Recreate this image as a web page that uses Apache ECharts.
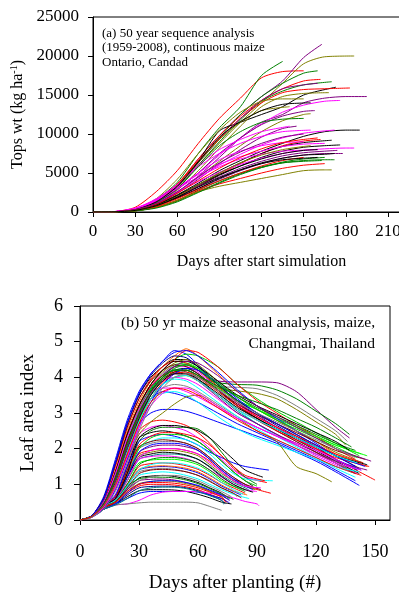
<!DOCTYPE html>
<html>
<head>
<meta charset="utf-8">
<script src="https://cdn.jsdelivr.net/npm/echarts@6/dist/echarts.min.js"></script>
<style>
  html, body { margin: 0; padding: 0; background: #fff; }
  #chart { width: 399px; height: 596px; }
</style>
</head>
<body>
<div id="chart"></div>
<script>
// (a) Tops weight, Ontario – days sampled every 15 d, last point sits at the curve's end day
const topDays = [0, 15, 30, 45, 60, 75, 90, 105, 120, 135, 150, 165, 180, 195];
const topEnd = [150, 135, 163, 186, 160, 162, 170, 173, 183, 160, 168, 195, 176, 150, 158,
  155, 145, 155, 190, 172, 162, 170, 176, 165, 186, 174, 178, 172, 160, 172,
  163, 165, 170, 150, 160, 140, 140, 150, 150, 155, 160, 165, 150, 155, 160];
const topColors = ['#ff0000', '#008000', '#800080', '#808000', '#008000', '#ff0000', '#008000', '#000000', '#ff0000', '#800080',
  '#808000', '#800080', '#ff00ff', '#808000', '#800080', '#808000', '#800080', '#ff00ff', '#000000', '#ff00ff',
  '#ff0000', '#000000', '#000000', '#ff00ff', '#ff00ff', '#800080', '#800080', '#000000', '#ff00ff', '#008000',
  '#008000', '#ff0000', '#808000', '#ff0000', '#000000', '#ff00ff', '#808000', '#008000', '#ff00ff', '#000000',
  '#ff0000', '#008000', '#800080', '#808000', '#000000'];
const topCurves = [
  [0, 50, 600, 2600, 5300, 8800, 12000, 14600, 17200, 18000, 18100],
  [0, 40, 400, 1600, 3800, 7500, 10800, 13500, 17500, 19300],
  [0, 40, 350, 1500, 3500, 6800, 9800, 12500, 14800, 16800, 19800, 21500],
  [0, 30, 300, 1300, 3200, 6000, 8800, 11500, 14000, 16500, 19000, 19900, 20000],
  [0, 30, 300, 1400, 3500, 6500, 9500, 12500, 14800, 16500, 17800, 18100],
  [0, 40, 350, 1500, 3600, 6800, 9800, 12300, 14300, 15800, 16800, 17000],
  [0, 30, 250, 1100, 3000, 6000, 9000, 11800, 14200, 15500, 16300, 16700],
  [0, 30, 300, 1200, 3200, 6500, 10400, 11500, 12500, 13500, 15000, 16000],
  [0, 40, 350, 1400, 3500, 6600, 9400, 12000, 14000, 15300, 15700, 15800, 15900],
  [0, 30, 300, 1300, 3300, 6300, 9300, 12000, 14300, 15800, 16300, 16500],
  [0, 30, 250, 1100, 2800, 5300, 8200, 11000, 13500, 14800, 15200, 15300],
  [0, 30, 250, 1000, 2500, 4600, 7000, 9500, 11500, 12500, 14000, 14600, 14800, 14800],
  [0, 40, 350, 1300, 3000, 5000, 7300, 9500, 11300, 12800, 13700, 14200, 14300],
  [0, 40, 400, 1700, 4200, 7500, 10500, 12800, 14200, 14500, 14500],
  [0, 30, 300, 1200, 2900, 5000, 7500, 9500, 11200, 12300, 12900, 13000],
  [0, 30, 250, 1000, 2500, 4500, 6500, 8500, 10300, 11700, 12500, 12600],
  [0, 30, 250, 1000, 2400, 4200, 6200, 8000, 9600, 10700, 11000],
  [0, 50, 450, 1700, 3500, 5800, 7500, 8800, 9700, 10300, 10500],
  [0, 30, 250, 900, 2200, 3700, 5300, 6600, 7800, 8800, 9700, 10300, 10500, 10500],
  [0, 40, 350, 1200, 2600, 4300, 6000, 7400, 8600, 9500, 10100, 10400, 10500],
  [0, 30, 250, 900, 2000, 3300, 4800, 6200, 7500, 8500, 9100, 9300],
  [0, 30, 250, 900, 2100, 3500, 5000, 6300, 7500, 8400, 8900, 9200],
  [0, 30, 200, 800, 1900, 3300, 4700, 5900, 7000, 7800, 8300, 8500, 8600],
  [0, 50, 500, 1600, 3200, 4800, 6100, 7100, 7800, 8400, 8700, 8800],
  [0, 40, 350, 1200, 2500, 3900, 5100, 6100, 6900, 7500, 7900, 8100, 8200, 8200],
  [0, 30, 250, 900, 2000, 3300, 4500, 5600, 6500, 7200, 7600, 7800, 7900],
  [0, 30, 250, 800, 1800, 3000, 4200, 5300, 6200, 6900, 7300, 7500, 7500],
  [0, 30, 200, 800, 1800, 3000, 4300, 5400, 6300, 6900, 7300, 7400, 7500],
  [0, 50, 450, 1500, 3000, 4500, 5800, 6800, 7400, 7800, 8000],
  [0, 20, 150, 600, 1400, 2600, 3800, 4900, 5700, 6300, 6600, 6700, 6700],
  [0, 20, 150, 600, 1500, 2800, 4000, 5000, 5800, 6300, 6500, 6600],
  [0, 20, 150, 600, 1500, 2700, 3600, 4300, 5000, 5600, 6000, 6200],
  [0, 20, 150, 600, 1500, 2600, 3300, 3800, 4300, 4800, 5300, 5400, 5400],
  [0, 30, 200, 700, 1700, 2900, 4000, 5000, 5900, 6600, 7000],
  [0, 30, 250, 900, 2100, 3500, 4800, 5900, 6800, 7500, 7900, 8000],
  [0, 40, 400, 1500, 3400, 6000, 8000, 9300, 10300, 11000],
  [0, 30, 300, 1300, 3300, 6300, 9300, 11500, 13000, 13500],
  [0, 30, 300, 1200, 3000, 5800, 8500, 10300, 11500, 11900, 12000],
  [0, 40, 400, 1400, 3000, 5000, 6700, 7800, 8500, 8900, 9000],
  [0, 30, 300, 1300, 3300, 6400, 9600, 11600, 13000, 13800, 14000],
  [0, 30, 300, 1000, 2400, 4000, 5600, 7000, 8100, 8900, 9300, 9500],
  [0, 20, 150, 500, 1300, 2500, 3700, 4800, 5700, 6400, 6800, 7000],
  [0, 30, 300, 1100, 2600, 4500, 6300, 7700, 8800, 9600, 10000],
  [0, 20, 200, 800, 2000, 3500, 5000, 6300, 7300, 8000, 8400, 8500],
  [0, 20, 200, 800, 1900, 3200, 4400, 5400, 6200, 6700, 6900, 7000]
];

// (b) Leaf area index, Changmai – high-LAI seasons and low-LAI seasons
const hiDays = [0, 6, 12, 18, 24, 30, 36, 42, 48, 54, 60, 70, 80, 90, 100, 110, 120, 130, 140];
const hiEnd = [143, 146, 142, 140, 141, 142, 140, 144, 137, 137, 136, 135, 146, 140, 142, 140, 150,
  139, 142, 138, 146, 140, 140, 143, 141, 128, 138, 147, 140, 140, 142, 137, 143, 145,
  144, 145, 141, 146, 139, 148, 141, 140, 138, 143];
const hiColors = ['#0000ff', '#ff6600', '#00cc00', '#00ffff', '#ff00ff', '#000000', '#808080', '#808000', '#800080', '#008000',
  '#808080', '#808000', '#00ff00', '#0000ff', '#0000ff', '#00ffff', '#ff0000', '#ff00ff', '#000000', '#008080',
  '#800080', '#800000', '#ff0000', '#00ff00', '#000080', '#808000', '#808080', '#ff0000', '#0000ff', '#008000',
  '#00ffff', '#000000', '#ff00ff', '#800000', '#ff0000', '#0000ff', '#00cc00', '#000000', '#ff00ff', '#800080',
  '#00ffff', '#808080', '#008000', '#ff0000'];
const hiCurves = [
  [0, 0.12, 0.65, 1.7, 2.8, 3.6, 4.1, 4.45, 4.75, 4.65, 4.35, 3.8, 3.3, 2.95, 2.6, 2.3, 2.0, 1.7, 1.4],
  [0, 0.1, 0.5, 1.4, 2.5, 3.3, 3.9, 4.3, 4.6, 4.8, 4.6, 4.1, 3.6, 3.2, 2.8, 2.5, 2.2, 1.85, 1.5],
  [0, 0.1, 0.5, 1.3, 2.4, 3.2, 3.8, 4.2, 4.5, 4.65, 4.6, 4.3, 3.8, 3.4, 3.05, 2.75, 2.45, 2.15, 1.8],
  [0, 0.1, 0.45, 1.2, 2.2, 3.0, 3.6, 4.0, 4.2, 4.25, 4.1, 3.6, 3.1, 2.7, 2.35, 2.05, 1.75, 1.45, 1.2],
  [0, 0.1, 0.5, 1.3, 2.3, 3.1, 3.6, 3.9, 4.0, 3.95, 3.8, 3.4, 3.0, 2.7, 2.4, 2.1, 1.8, 1.55, 1.3],
  [0, 0.12, 0.6, 1.6, 2.7, 3.5, 4.0, 4.3, 4.5, 4.5, 4.3, 3.8, 3.35, 3.0, 2.7, 2.4, 2.1, 1.8, 1.45],
  [0, 0.1, 0.45, 1.2, 2.2, 3.0, 3.6, 4.0, 4.25, 4.35, 4.2, 3.7, 3.2, 2.8, 2.5, 2.2, 1.9, 1.6, 1.35],
  [0, 0.1, 0.5, 1.3, 2.4, 3.2, 3.8, 4.15, 4.4, 4.5, 4.35, 3.9, 3.45, 3.1, 2.8, 2.5, 2.2, 1.9, 1.6],
  [0, 0.1, 0.5, 1.3, 2.3, 3.1, 3.7, 4.05, 4.3, 4.35, 4.2, 3.9, 3.87, 3.87, 3.85, 3.6, 3.1, 2.6, 2.3],
  [0, 0.1, 0.45, 1.2, 2.2, 3.0, 3.6, 3.95, 4.15, 4.2, 4.0, 3.85, 3.8, 3.78, 3.65, 3.4, 3.05, 2.7, 2.4],
  [0, 0.1, 0.45, 1.2, 2.2, 3.0, 3.6, 4.0, 4.2, 4.2, 4.0, 3.75, 3.72, 3.68, 3.5, 3.2, 2.85, 2.5, 2.2],
  [0, 0.08, 0.4, 1.1, 2.0, 2.8, 3.4, 3.8, 4.0, 4.05, 3.9, 3.7, 3.62, 3.55, 3.4, 3.1, 2.75, 2.4, 2.1],
  [0, 0.1, 0.5, 1.3, 2.3, 3.1, 3.7, 4.1, 4.35, 4.4, 4.25, 3.75, 3.35, 3.1, 2.85, 2.6, 2.35, 2.1, 1.8],
  [0, 0.1, 0.45, 1.15, 2.1, 2.9, 3.4, 3.6, 3.55, 3.45, 3.3, 3.0, 2.7, 2.45, 2.2, 1.95, 1.7, 1.4, 1.1],
  [0, 0.1, 0.45, 1.15, 2.0, 2.7, 3.0, 3.1, 3.1, 3.05, 2.95, 2.75, 2.55, 2.35, 2.15, 1.9, 1.65, 1.35, 0.97],
  [0, 0.1, 0.5, 1.3, 2.3, 3.0, 3.4, 3.55, 3.6, 3.5, 3.3, 2.9, 2.55, 2.3, 2.1, 1.9, 1.7, 1.5, 1.3],
  [0, 0.1, 0.55, 1.5, 2.6, 3.4, 3.95, 4.3, 4.45, 4.4, 4.2, 3.75, 3.3, 2.9, 2.6, 2.3, 2.0, 1.7, 1.12],
  [0, 0.1, 0.5, 1.35, 2.4, 3.2, 3.75, 4.1, 4.3, 4.3, 4.15, 3.7, 3.25, 2.9, 2.6, 2.3, 2.0, 1.7, 1.45],
  [0, 0.1, 0.45, 1.2, 2.2, 3.0, 3.6, 4.0, 4.2, 4.25, 4.1, 3.65, 3.2, 2.85, 2.55, 2.25, 1.95, 1.65, 1.3],
  [0, 0.1, 0.5, 1.3, 2.3, 3.1, 3.7, 4.05, 4.2, 4.15, 3.95, 3.5, 3.05, 2.7, 2.4, 2.1, 1.85, 1.6, 1.35],
  [0, 0.1, 0.45, 1.2, 2.1, 2.9, 3.5, 3.9, 4.1, 4.1, 3.9, 3.45, 3.0, 2.7, 2.4, 2.15, 1.9, 1.65, 1.4],
  [0, 0.12, 0.6, 1.55, 2.6, 3.4, 3.9, 4.2, 4.35, 4.3, 4.1, 3.65, 3.2, 2.85, 2.5, 2.2, 1.9, 1.6, 1.3],
  [0, 0.1, 0.5, 1.3, 2.4, 3.2, 3.8, 4.2, 4.5, 4.75, 4.7, 4.3, 3.8, 3.35, 3.0, 2.65, 2.35, 2.0, 1.7],
  [0, 0.1, 0.5, 1.3, 2.3, 3.1, 3.65, 4.0, 4.2, 4.2, 4.05, 3.7, 3.35, 3.1, 2.85, 2.6, 2.35, 2.1, 1.85],
  [0, 0.12, 0.6, 1.6, 2.7, 3.5, 4.05, 4.4, 4.6, 4.55, 4.3, 3.8, 3.35, 3.0, 2.65, 2.35, 2.05, 1.7, 1.4],
  [0, 0.08, 0.35, 0.9, 1.7, 2.4, 2.75, 3.0, 3.25, 3.45, 3.5, 3.2, 2.85, 2.5, 2.2, 1.5, 1.3, 1.07],
  [0, 0.1, 0.45, 1.2, 2.1, 2.9, 3.4, 3.7, 3.8, 3.75, 3.6, 3.25, 2.9, 2.6, 2.35, 2.1, 1.85, 1.6, 1.35],
  [0, 0.1, 0.5, 1.35, 2.4, 3.2, 3.75, 4.05, 4.15, 4.1, 3.9, 3.5, 3.1, 2.8, 2.5, 2.25, 2.0, 1.75, 1.5],
  [0, 0.12, 0.6, 1.6, 2.7, 3.55, 4.1, 4.45, 4.7, 4.75, 4.6, 4.15, 3.65, 3.2, 2.85, 2.5, 2.15, 1.8, 1.5],
  [0, 0.1, 0.45, 1.2, 2.2, 3.0, 3.65, 4.05, 4.3, 4.35, 4.2, 3.8, 3.45, 3.15, 2.9, 2.65, 2.4, 2.15, 1.95],
  [0, 0.1, 0.5, 1.3, 2.3, 3.0, 3.5, 3.8, 3.95, 3.9, 3.7, 3.3, 2.9, 2.55, 2.25, 2.0, 1.75, 1.5, 1.35],
  [0, 0.1, 0.5, 1.35, 2.4, 3.2, 3.8, 4.2, 4.45, 4.45, 4.3, 3.9, 3.5, 3.2, 2.95, 2.7, 2.45, 2.2, 1.95],
  [0, 0.1, 0.5, 1.3, 2.3, 3.1, 3.6, 3.7, 3.7, 3.6, 3.45, 3.15, 2.85, 2.6, 2.35, 2.1, 1.85, 1.6, 1.4],
  [0, 0.1, 0.45, 1.2, 2.2, 3.0, 3.6, 3.95, 4.15, 4.2, 4.05, 3.65, 3.25, 2.95, 2.7, 2.45, 2.2, 1.95, 1.7],
  [0, 0.08, 0.35, 0.95, 1.8, 2.7, 3.4, 3.85, 4.1, 4.15, 4.0, 3.6, 3.2, 2.9, 2.6, 2.35, 2.1, 1.85, 1.6],
  [0, 0.08, 0.3, 0.85, 1.7, 2.6, 3.3, 3.8, 4.1, 4.25, 4.2, 3.85, 3.4, 3.0, 2.7, 2.4, 2.1, 1.8, 1.5],
  [0, 0.1, 0.4, 1.0, 1.9, 2.8, 3.5, 3.95, 4.25, 4.35, 4.25, 3.85, 3.45, 3.1, 2.8, 2.55, 2.3, 2.05, 1.75],
  [0, 0.1, 0.4, 1.05, 2.0, 2.85, 3.5, 3.9, 4.1, 4.1, 3.95, 3.55, 3.15, 2.85, 2.55, 2.3, 2.05, 1.8, 1.55],
  [0, 0.08, 0.35, 0.9, 1.75, 2.6, 3.2, 3.55, 3.7, 3.7, 3.55, 3.2, 2.85, 2.6, 2.35, 2.15, 1.95, 1.7, 1.45],
  [0, 0.1, 0.45, 1.1, 2.0, 2.9, 3.55, 4.0, 4.3, 4.45, 4.4, 4.05, 3.6, 3.2, 2.9, 2.6, 2.3, 2.0, 1.65],
  [0, 0.1, 0.4, 1.0, 1.9, 2.75, 3.4, 3.8, 4.0, 4.05, 3.9, 3.5, 3.1, 2.8, 2.55, 2.3, 2.05, 1.8, 1.6],
  [0, 0.08, 0.3, 0.8, 1.6, 2.5, 3.2, 3.7, 4.0, 4.1, 4.0, 3.65, 3.3, 3.0, 2.75, 2.5, 2.25, 2.0, 1.75],
  [0, 0.1, 0.45, 1.15, 2.1, 2.95, 3.6, 4.0, 4.2, 4.2, 4.05, 3.75, 3.5, 3.3, 3.1, 2.85, 2.6, 2.3, 2.05],
  [0, 0.1, 0.4, 1.0, 1.85, 2.7, 3.3, 3.6, 3.7, 3.65, 3.5, 3.15, 2.8, 2.5, 2.25, 2.0, 1.75, 1.5, 1.25]
];
const loDays = [0, 6, 12, 18, 24, 30, 36, 42, 48, 54, 60, 66, 72, 78, 84, 90];
const loEnd = [95, 92, 90, 88, 96, 98, 88, 86, 97, 89, 87, 90, 84, 84, 82, 80, 86, 76, 76, 74,
  75, 74, 77, 76, 91, 72, 78, 92, 88, 85, 90, 94, 88, 92, 84, 83, 82, 77, 76, 74, 73, 93];
const loColors = ['#ff0000', '#ff00ff', '#008000', '#000000', '#0000ff', '#00ffff', '#808080', '#800080', '#ff0000', '#808000',
  '#008080', '#ff00ff', '#00ff00', '#ff0000', '#0000ff', '#808080', '#00ffff', '#000000', '#800080', '#808000',
  '#ff0000', '#000080', '#000000', '#0000ff', '#ff00ff', '#808080', '#008000', '#800000', '#000000', '#ff6600',
  '#00cc00', '#ff0000', '#0000ff', '#ff00ff', '#008000', '#00ffff', '#800000', '#808080', '#0000ff', '#ff0000',
  '#008080', '#000000'];
const loCurves = [
  [0, 0.1, 0.4, 0.6, 1.4, 2.5, 2.75, 2.8, 2.75, 2.65, 2.45, 2.15, 1.8, 1.45, 1.2, 1.05],
  [0, 0.1, 0.4, 0.7, 1.6, 2.4, 2.6, 2.65, 2.6, 2.5, 2.3, 2.0, 1.7, 1.4, 1.2, 1.1],
  [0, 0.1, 0.35, 0.6, 1.3, 2.2, 2.5, 2.6, 2.6, 2.6, 2.55, 2.3, 1.9, 1.5, 1.2, 1.0],
  [0, 0.1, 0.4, 0.65, 1.5, 2.3, 2.45, 2.5, 2.45, 2.35, 2.2, 1.95, 1.65, 1.35, 1.1, 0.95],
  [0, 0.1, 0.4, 0.7, 1.5, 2.2, 2.35, 2.4, 2.35, 2.25, 2.1, 1.9, 1.75, 1.6, 1.5, 1.4],
  [0, 0.1, 0.35, 0.6, 1.3, 2.0, 2.2, 2.3, 2.3, 2.25, 2.1, 1.85, 1.55, 1.3, 1.15, 1.1],
  [0, 0.1, 0.4, 0.6, 1.4, 2.0, 2.15, 2.2, 2.2, 2.15, 2.0, 1.75, 1.45, 1.2, 1.0, 0.9],
  [0, 0.1, 0.35, 0.55, 1.2, 1.9, 2.05, 2.1, 2.1, 2.05, 1.95, 1.7, 1.4, 1.15, 1.0, 0.9],
  [0, 0.1, 0.4, 0.65, 1.3, 1.85, 1.95, 2.0, 2.0, 1.95, 1.85, 1.65, 1.35, 1.1, 0.95, 0.75],
  [0, 0.1, 0.4, 0.6, 1.2, 1.8, 1.9, 1.95, 1.95, 1.9, 1.8, 1.55, 1.3, 1.1, 0.95, 0.85],
  [0, 0.1, 0.35, 0.55, 1.1, 1.7, 1.8, 1.85, 1.85, 1.8, 1.7, 1.5, 1.25, 1.05, 0.9, 0.8],
  [0, 0.1, 0.4, 0.6, 1.2, 1.7, 1.78, 1.8, 1.78, 1.72, 1.6, 1.4, 1.2, 1.0, 0.85, 0.8],
  [0, 0.1, 0.35, 0.55, 1.1, 1.6, 1.68, 1.7, 1.7, 1.65, 1.55, 1.35, 1.1, 0.95, 0.85],
  [0, 0.1, 0.4, 0.55, 1.0, 1.5, 1.58, 1.6, 1.58, 1.52, 1.42, 1.25, 1.05, 0.9, 0.75],
  [0, 0.1, 0.35, 0.5, 0.95, 1.4, 1.48, 1.5, 1.48, 1.42, 1.32, 1.15, 0.95, 0.8, 0.7],
  [0, 0.1, 0.35, 0.55, 1.0, 1.35, 1.42, 1.45, 1.42, 1.35, 1.25, 1.1, 0.9, 0.75, 0.65],
  [0, 0.1, 0.4, 0.55, 0.9, 1.25, 1.32, 1.35, 1.32, 1.25, 1.15, 1.0, 0.85, 0.72, 0.6],
  [0, 0.1, 0.35, 0.5, 0.85, 1.18, 1.23, 1.25, 1.22, 1.15, 1.05, 0.9, 0.75, 0.6],
  [0, 0.1, 0.35, 0.5, 0.85, 1.1, 1.14, 1.15, 1.12, 1.05, 0.95, 0.82, 0.68, 0.55],
  [0, 0.1, 0.3, 0.45, 0.8, 1.02, 1.08, 1.1, 1.08, 1.02, 0.94, 0.8, 0.65, 0.52],
  [0, 0.1, 0.35, 0.45, 0.75, 0.95, 1.0, 1.0, 0.98, 0.93, 0.85, 0.72, 0.6, 0.5],
  [0, 0.1, 0.3, 0.45, 0.7, 0.9, 0.94, 0.95, 0.94, 0.9, 0.82, 0.7, 0.55, 0.45],
  [0, 0.1, 0.3, 0.45, 0.65, 0.82, 0.85, 0.85, 0.84, 0.8, 0.72, 0.62, 0.5, 0.45],
  [0, 0.1, 0.3, 0.45, 0.6, 0.75, 0.8, 0.8, 0.8, 0.8, 0.78, 0.7, 0.6, 0.48],
  [0, 0.1, 0.3, 0.42, 0.45, 0.55, 0.7, 0.78, 0.8, 0.8, 0.8, 0.75, 0.7, 0.62, 0.52, 0.45, 0.4],
  [0, 0.1, 0.3, 0.42, 0.45, 0.48, 0.5, 0.5, 0.5, 0.5, 0.48, 0.38, 0.27],
  [0, 0.1, 0.35, 0.5, 0.95, 1.15, 1.2, 1.2, 1.18, 1.12, 1.02, 0.88, 0.72, 0.58],
  [0, 0.1, 0.4, 0.6, 1.4, 2.05, 2.2, 2.25, 2.22, 2.15, 2.0, 1.75, 1.45, 1.2, 1.0, 0.85],
  [0, 0.1, 0.35, 0.55, 1.2, 1.75, 1.85, 1.9, 1.88, 1.82, 1.7, 1.48, 1.22, 1.0, 0.85, 0.78],
  [0, 0.1, 0.4, 0.55, 1.0, 1.42, 1.5, 1.52, 1.5, 1.45, 1.35, 1.18, 0.98, 0.82, 0.7],
  [0, 0.1, 0.35, 0.55, 1.2, 2.0, 2.3, 2.4, 2.4, 2.35, 2.2, 1.95, 1.65, 1.35, 1.1, 0.95],
  [0, 0.1, 0.35, 0.6, 1.3, 2.1, 2.35, 2.45, 2.45, 2.4, 2.3, 2.1, 1.8, 1.5, 1.25, 1.1],
  [0, 0.1, 0.4, 0.6, 1.2, 1.9, 2.1, 2.15, 2.15, 2.1, 1.95, 1.7, 1.4, 1.15, 0.95, 0.85],
  [0, 0.1, 0.35, 0.55, 1.1, 1.75, 1.95, 2.0, 2.0, 1.95, 1.85, 1.6, 1.35, 1.1, 0.95, 0.9],
  [0, 0.1, 0.35, 0.55, 1.0, 1.55, 1.7, 1.75, 1.75, 1.7, 1.6, 1.4, 1.15, 0.95, 0.8],
  [0, 0.1, 0.4, 0.55, 0.95, 1.4, 1.55, 1.6, 1.6, 1.55, 1.45, 1.28, 1.05, 0.85, 0.72],
  [0, 0.1, 0.35, 0.5, 0.9, 1.3, 1.4, 1.42, 1.4, 1.35, 1.25, 1.08, 0.9, 0.75, 0.62],
  [0, 0.1, 0.3, 0.45, 0.8, 1.1, 1.2, 1.25, 1.25, 1.2, 1.1, 0.95, 0.8, 0.65],
  [0, 0.1, 0.3, 0.45, 0.75, 1.0, 1.08, 1.1, 1.1, 1.05, 0.97, 0.84, 0.7, 0.56],
  [0, 0.1, 0.35, 0.5, 0.8, 1.0, 1.05, 1.05, 1.03, 0.98, 0.9, 0.78, 0.64, 0.5],
  [0, 0.1, 0.3, 0.42, 0.6, 0.82, 0.9, 0.92, 0.92, 0.88, 0.8, 0.68, 0.55, 0.44],
  [0, 0.1, 0.4, 0.6, 1.3, 2.3, 2.55, 2.65, 2.65, 2.6, 2.5, 2.3, 2.0, 1.7, 1.4, 1.2]
];

const serif = "'Liberation Serif', 'DejaVu Serif', serif";

// last value of each curve is placed at its end day
function toPoints(days, values, end) {
  return values.map((v, j) => [j === values.length - 1 ? end : days[j], v]);
}

function lineSeries(axis, pts, color) {
  return {
    type: 'line', xAxisIndex: axis, yAxisIndex: axis,
    data: pts,
    showSymbol: false, smooth: 0.25, silent: true,
    lineStyle: { width: 1, color: color }
  };
}

const series = [];
topCurves.forEach((c, i) => series.push(lineSeries(0, toPoints(topDays, c, topEnd[i]), topColors[i])));
loCurves.forEach((c, i) => series.push(lineSeries(1, toPoints(loDays, c, loEnd[i]), loColors[i])));
hiCurves.forEach((c, i) => series.push(lineSeries(1, toPoints(hiDays, c, hiEnd[i]), hiColors[i])));

const chart = echarts.init(document.getElementById('chart'));
chart.setOption({
  animation: false,
  backgroundColor: '#fff',
  textStyle: { fontFamily: serif, color: '#000' },
  grid: [
    { left: 93, top: 17, width: 337, height: 195, outerBoundsMode: 'none', containLabel: false,
      show: true, borderColor: '#000', borderWidth: 1, backgroundColor: 'transparent' },
    { left: 80, top: 306, width: 310, height: 214, outerBoundsMode: 'none', containLabel: false,
      show: true, borderColor: '#000', borderWidth: 1, backgroundColor: 'transparent' }
  ],
  xAxis: [
    {
      gridIndex: 0, type: 'value', min: 0, max: 240, interval: 30,
      name: 'Days after start simulation', nameLocation: 'middle', nameGap: 42,
      nameTextStyle: { fontSize: 16, fontFamily: serif, color: '#000' },
      axisLine: { onZero: false, lineStyle: { color: '#000', width: 1 } },
      axisTick: { inside: false, length: 5, lineStyle: { color: '#000' } },
      axisLabel: { fontSize: 17, fontFamily: serif, color: '#000', margin: 11, hideOverlap: false },
      splitLine: { show: false }
    },
    {
      gridIndex: 1, type: 'value', min: 0, max: 157.6, interval: 30,
      name: 'Days after planting (#)', nameLocation: 'middle', nameGap: 54,
      nameTextStyle: { fontSize: 19, fontFamily: serif, color: '#000' },
      axisLine: { onZero: false, lineStyle: { color: '#000', width: 1 } },
      axisTick: { inside: false, length: 5, lineStyle: { color: '#000' } },
      axisLabel: {
        fontSize: 18, fontFamily: serif, color: '#000', margin: 23, showMaxLabel: false,
        formatter: (v) => (v % 30 === 0 ? String(v) : '')
      },
      splitLine: { show: false }
    }
  ],
  yAxis: [
    {
      gridIndex: 0, type: 'value', min: 0, max: 25000, interval: 5000,
      name: 'Tops wt (kg ha{sup|-1})', nameLocation: 'middle', nameGap: 62,
      nameTextStyle: {
        fontSize: 16, fontFamily: serif, color: '#000',
        rich: { sup: { fontSize: 10, fontFamily: serif, verticalAlign: 'top', color: '#000' } }
      },
      axisLine: { show: true, lineStyle: { color: '#000', width: 1 } },
      axisTick: { show: true, inside: false, length: 5, lineStyle: { color: '#000' } },
      axisLabel: { fontSize: 17, fontFamily: serif, color: '#000', margin: 14, formatter: (v) => String(v) },
      splitLine: { show: false }
    },
    {
      gridIndex: 1, type: 'value', min: 0, max: 6, interval: 1,
      name: 'Leaf area index', nameLocation: 'middle', nameGap: 42,
      nameTextStyle: { fontSize: 19, fontFamily: serif, color: '#000' },
      axisLine: { show: true, lineStyle: { color: '#000', width: 1 } },
      axisTick: { show: true, inside: false, length: 6, lineStyle: { color: '#000' } },
      axisLabel: { fontSize: 18, fontFamily: serif, color: '#000', margin: 17 },
      splitLine: { show: false }
    }
  ],
  graphic: [
    {
      type: 'text', x: 102, y: 26, silent: true,
      style: {
        text: '(a) 50 year sequence analysis\n(1959-2008), continuous maize\nOntario, Candad',
        font: "13px " + serif, fill: '#000', lineHeight: 14.5
      }
    },
    {
      type: 'text', x: 375, y: 323, silent: true,
      style: {
        text: '(b) 50 yr maize seasonal analysis, maize,',
        font: "15.5px " + serif, fill: '#000', align: 'right', verticalAlign: 'middle'
      }
    },
    {
      type: 'text', x: 375, y: 344, silent: true,
      style: {
        text: 'Changmai, Thailand',
        font: "15.5px " + serif, fill: '#000', align: 'right', verticalAlign: 'middle'
      }
    }
  ],
  series: series
});
</script>
</body>
</html>
